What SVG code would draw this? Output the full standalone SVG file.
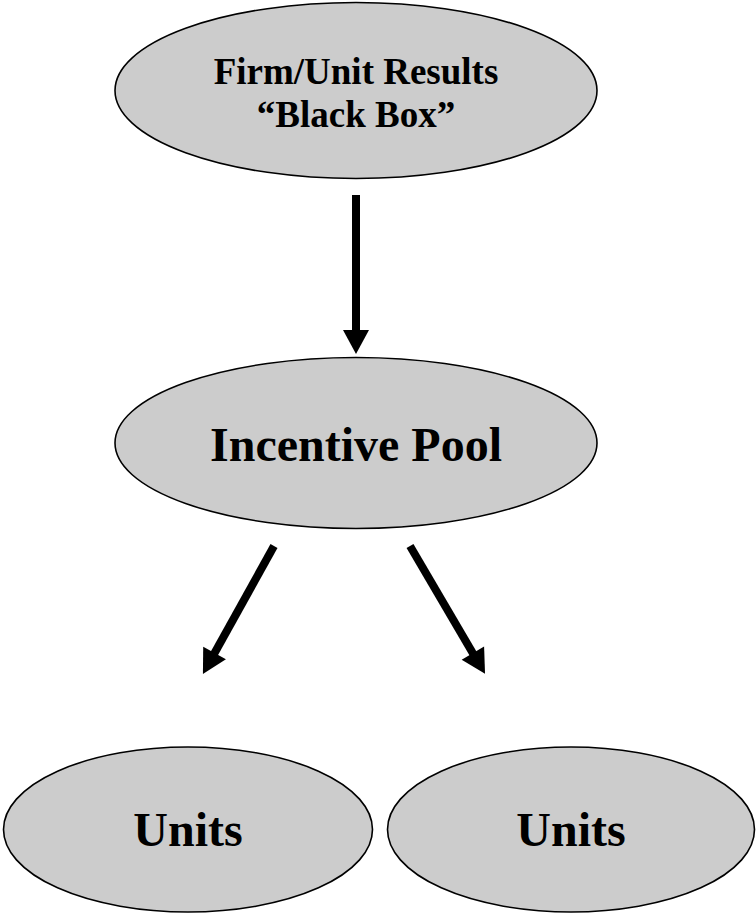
<svg xmlns="http://www.w3.org/2000/svg" width="756" height="916" viewBox="0 0 756 916">
<style>
.node{fill:#cccccc;stroke:#000;stroke-width:1.6}
.lbl{font-family:"Liberation Serif","Times New Roman",serif;font-weight:bold;fill:#000;text-anchor:middle}
.conn{stroke:#000;stroke-width:8;fill:none;marker-end:url(#ah)}
</style>
<defs>
<marker id="ah" markerUnits="userSpaceOnUse" markerWidth="24" markerHeight="26" refX="2" refY="13" orient="auto" overflow="visible">
<path d="M0,0 L24,13 L0,26 z" fill="#000"/>
</marker>
</defs>
<rect width="756" height="916" fill="#fff"/>
<g id="connectors">
<line class="conn" x1="356" y1="195" x2="356" y2="332"/>
<line class="conn" x1="274" y1="546" x2="213.6" y2="654.7"/>
<line class="conn" x1="410" y1="546" x2="473.9" y2="654.9"/>
</g>
<g id="firm">
<ellipse class="node" cx="356" cy="90.5" rx="241" ry="88"/>
<text class="lbl" x="356" y="84" font-size="37">Firm/Unit Results</text>
<text class="lbl" x="356" y="127" font-size="37">“Black Box”</text>
</g>
<g id="pool">
<ellipse class="node" cx="356" cy="443" rx="241" ry="85.5"/>
<text class="lbl" x="356" y="461" font-size="48">Incentive Pool</text>
</g>
<g id="units-left">
<ellipse class="node" cx="188" cy="829.5" rx="184.5" ry="82.5"/>
<text class="lbl" x="188" y="846" font-size="48">Units</text>
</g>
<g id="units-right">
<ellipse class="node" cx="571" cy="829.5" rx="183.5" ry="82.5"/>
<text class="lbl" x="571" y="846" font-size="48">Units</text>
</g>
</svg>
